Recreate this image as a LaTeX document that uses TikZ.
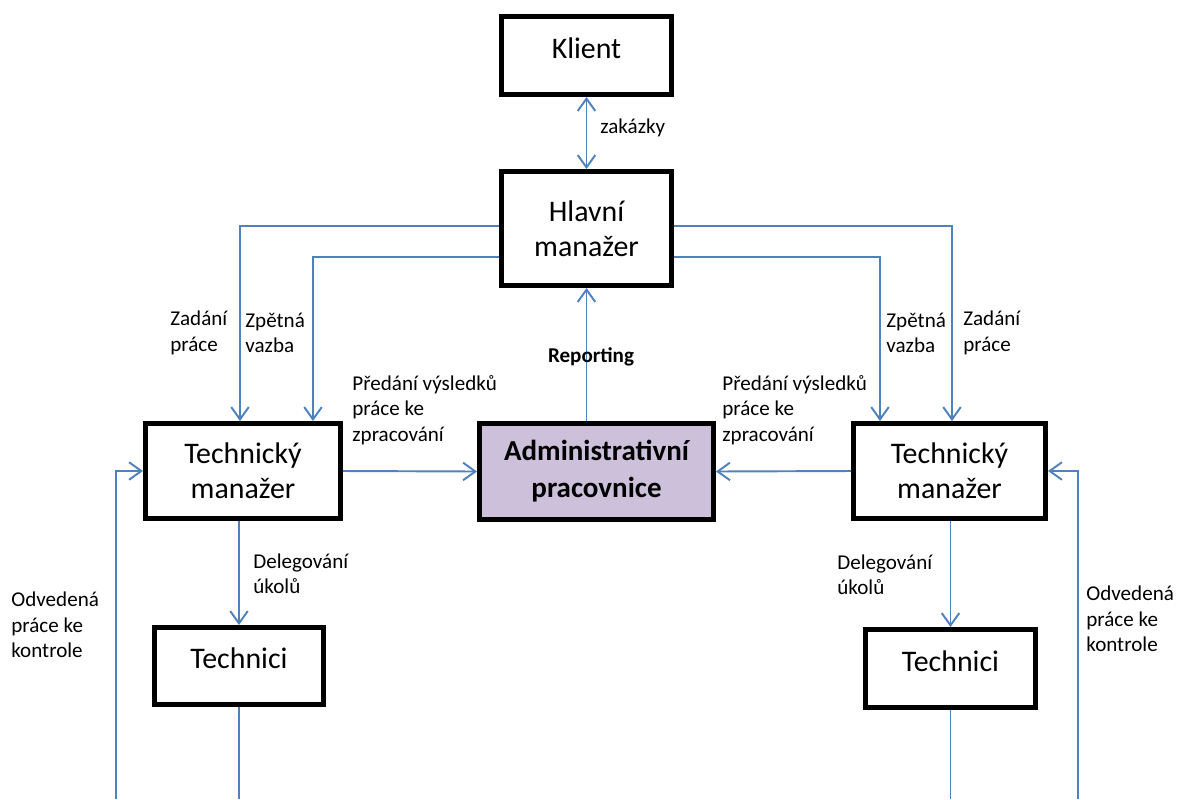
\documentclass[tikz,border=0pt]{standalone}
\usepackage{fontspec}
\setmainfont{Carlito}
\usetikzlibrary{arrows.meta}
\definecolor{linkblue}{RGB}{79,129,189}
\definecolor{admfill}{RGB}{204,192,218}
\begin{document}
\begin{tikzpicture}[x=0.02cm, y=-0.02cm,
		box/.style={draw, line width=0.1cm, align=center, inner sep=0pt, font=\fontsize{17}{20}\selectfont},
		oneline/.style={text height=12pt, text depth=9pt},
		lab/.style={anchor=west, align=left, inner sep=0pt, font=\fontsize{12}{14.5}\selectfont},
		flow/.style={draw=linkblue, line width=1.1pt, -{Straight Barb[length=7pt, width=10pt]}},
		plain/.style={draw=linkblue, line width=1.1pt}]
		\useasboundingbox (0,0) rectangle (1177,799);
		% boxes
		\node[box, oneline, minimum width=3.4cm, minimum height=1.56cm] (kl) at (586.5,55.5) {Klient};
		\node[box, minimum width=3.4cm, minimum height=2.28cm] (hm) at (586.5,228.5) {Hlavní\\manažer};
		\node[box, minimum width=3.9cm, minimum height=1.9cm] (tmL) at (243,471) {Technický\\manažer};
		\node[box, fill=admfill, minimum width=4.68cm, minimum height=1.92cm, font=\fontsize{16.5}{21}\selectfont\bfseries] (adm) at (596.5,471.5) {Administrativní\\pracovnice};
		\node[box, minimum width=3.84cm, minimum height=1.9cm] (tmR) at (949.5,471) {Technický\\manažer};
		\node[box, oneline, minimum width=3.38cm, minimum height=1.54cm] (tcL) at (239,666) {Technici};
		\node[box, oneline, minimum width=3.4cm, minimum height=1.56cm] (tcR) at (950.5,668.5) {Technici};
		% corners of the long connectors
		\coordinate (zadL) at (240,226);
		\coordinate (zpeL) at (313,257);
		\coordinate (zadR) at (952,226);
		\coordinate (zpeR) at (880,257);
		\coordinate (odvL) at (116,799);
		\coordinate (odvR) at (1078,799);
		% connectors
		\draw[flow, {Straight Barb[length=7pt, width=10pt]}-{Straight Barb[length=7pt, width=10pt]}] (kl.south) -- (hm.north);
		\draw[flow] (hm.west |- zadL) -- (zadL) -- (zadL |- tmL.north);
		\draw[flow] (hm.west |- zpeL) -- (zpeL) -- (zpeL |- tmL.north);
		\draw[flow] (hm.east |- zadR) -- (zadR) -- (zadR |- tmR.north);
		\draw[flow] (hm.east |- zpeR) -- (zpeR) -- (zpeR |- tmR.north);
		\draw[flow] (adm.north -| hm.south) -- (hm.south);
		\draw[flow] (tmL.east) -- (adm.west);
		\draw[flow] (tmR.west) -- (adm.east);
		\draw[flow] (tcL.north |- tmL.south) -- (tcL.north);
		\draw[flow] (tcR.north |- tmR.south) -- (tcR.north);
		\draw[plain] (tcL.south) -- (tcL.south |- odvL);
		\draw[plain] (tcR.south) -- (tcR.south |- odvR);
		\draw[flow] (odvL) |- (tmL.west);
		\draw[flow] (odvR) |- (tmR.east);
		% labels
		\node[lab] (lzak) at (600,128) {zakázky};
		\node[lab] (lzadL) at (170,333) {Zadání\\práce};
		\node[lab] (lzpeL) at (245,333) {Zpětná\\vazba};
		\node[lab] (lzpeR) at (886,333) {Zpětná\\vazba};
		\node[lab] (lzadR) at (963,333) {Zadání\\práce};
		\node[lab, anchor=center, font=\fontsize{12}{14.5}\selectfont\bfseries] (lrep) at (591,357) {Reporting};
		\node[lab] (lpreL) at (352,410) {Předání výsledků\\práce ke\\zpracování};
		\node[lab] (lpreR) at (722,410) {Předání výsledků\\práce ke\\zpracování};
		\node[lab] (ldelL) at (253,574) {Delegování\\úkolů};
		\node[lab] (ldelR) at (837,575) {Delegování\\úkolů};
		\node[lab] (lodvL) at (11,625) {Odvedená\\práce ke\\kontrole};
		\node[lab] (lodvR) at (1086,619) {Odvedená\\práce ke\\kontrole};
\end{tikzpicture}
\end{document}
